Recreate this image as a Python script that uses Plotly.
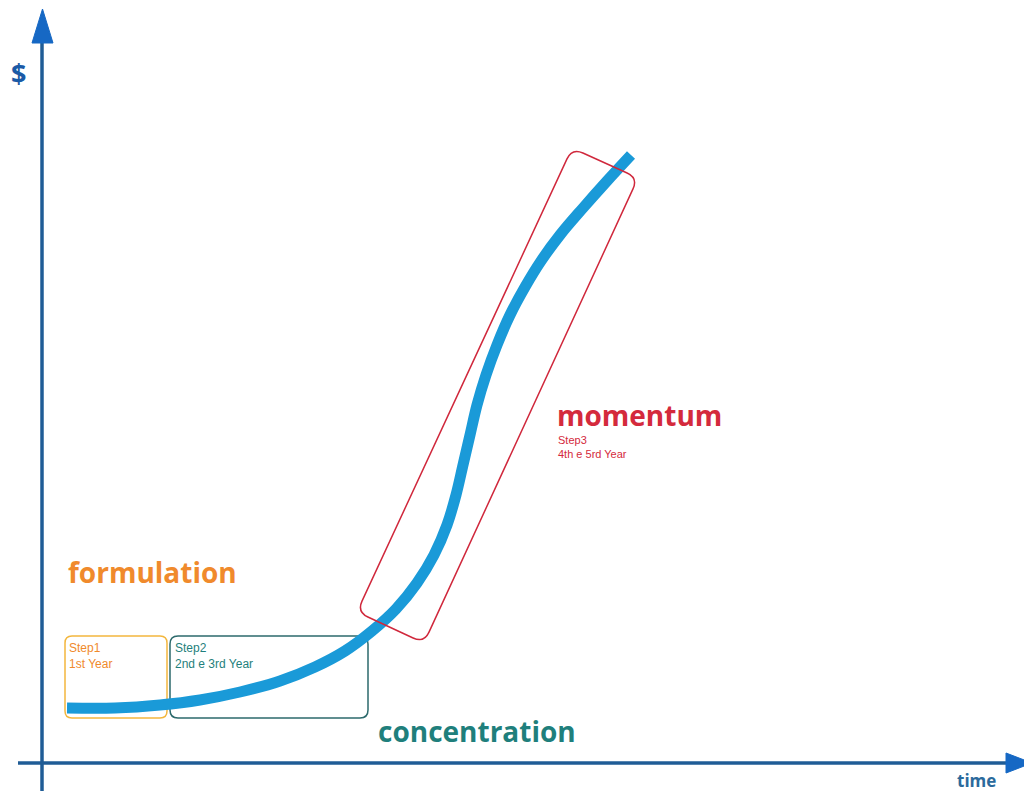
import math
import plotly.graph_objects as go

W, H = 1032, 791

# ---- data (x = time units, y = $ units; axis spans 0..1032 x 0..791) ----
curve_time = [67, 115, 160, 200, 240, 280, 315, 345, 372, 396, 417, 434, 447, 456, 463, 470,
              477, 486, 497, 510, 525, 541, 560, 583, 607, 631]
curve_value = [83, 83, 86, 91, 99, 110, 124, 140, 160, 182, 208, 236, 266, 296, 326, 356,
               386, 416, 446, 476, 504, 530, 556, 583, 610, 636]

phase_names = ["formulation", "concentration", "momentum"]
phase_steps = ["Step1<br>1st Year", "Step2<br>2nd e 3rd Year", "Step3<br>4th e 5rd Year"]
phase_colors = ["#f08a2c", "#1f7f7c", "#d42a3c"]
box_colors = ["#f3b73e", "#2d6a6c", "#d0283c"]

# step boxes (x0, x1, y0, y1) in data units
step1_box = [65, 167, 73, 155]
step2_box = [170, 368, 73, 155]
# rotated momentum box corners (TL, TR, BR, BL)
step3_corners = [(572, 643), (638, 613), (424, 148), (357, 179)]

AXIS = "#1f5c96"
HEAD = "#1668c4"
LINE = "#1a9ad8"

def rounded_rect(x0, x1, y0, y1, r):
    return (f"M {x0+r},{y0} L {x1-r},{y0} Q {x1},{y0} {x1},{y0+r} "
            f"L {x1},{y1-r} Q {x1},{y1} {x1-r},{y1} L {x0+r},{y1} "
            f"Q {x0},{y1} {x0},{y1-r} L {x0},{y0+r} Q {x0},{y0} {x0+r},{y0} Z")

def rounded_poly(pts, r):
    n = len(pts)
    def towards(a, b, d):
        dx, dy = b[0]-a[0], b[1]-a[1]
        L = math.hypot(dx, dy)
        return (a[0]+dx*d/L, a[1]+dy*d/L)
    path = ""
    for i in range(n):
        prev = pts[i-1]
        cur = pts[i]
        nxt = pts[(i+1) % n]
        p1 = towards(cur, prev, r)
        p2 = towards(cur, nxt, r)
        path += ("M" if i == 0 else "L") + f" {p1[0]:.1f},{p1[1]:.1f} "
        path += f"Q {cur[0]},{cur[1]} {p2[0]:.1f},{p2[1]:.1f} "
    return path + "Z"

fig = go.Figure()
fig.add_trace(go.Scatter(x=curve_time, y=curve_value, mode="lines",
                         line=dict(color=LINE, width=11, shape="spline", smoothing=1.0, simplify=False),
                         hoverinfo="skip", showlegend=False))

shapes = []
shapes.append(dict(type="path", path=rounded_rect(*step1_box, 7), line=dict(color=box_colors[0], width=1.5), layer="below"))
shapes.append(dict(type="path", path=rounded_rect(*step2_box, 8), line=dict(color=box_colors[1], width=1.5), layer="below"))
shapes.append(dict(type="path", path=rounded_poly(step3_corners, 12), line=dict(color=box_colors[2], width=1.5), layer="above"))
shapes.append(dict(type="line", x0=42, x1=42, y0=-10, y1=752, line=dict(color=AXIS, width=3.5)))
shapes.append(dict(type="line", x0=18, x1=1012, y0=28, y1=28, line=dict(color=AXIS, width=3.5)))
shapes.append(dict(type="path", path="M 32,748 L 53,748 L 42.5,782 Z", fillcolor=HEAD, line=dict(color=HEAD, width=1)))
shapes.append(dict(type="path", path="M 1006,38 L 1006,18 L 1032,28 Z", fillcolor=HEAD, line=dict(color=HEAD, width=1)))

FONT = "Open Sans"
ann = []
ann.append(dict(x=18, y=719, text="<b>$</b>", font=dict(family=FONT, size=27, color="#1a5aa6"), xanchor="center", yanchor="middle"))
ann.append(dict(x=976, y=11, text="<b>time</b>", font=dict(family=FONT, size=17, color="#2b6a9c"), xanchor="center", yanchor="middle"))
ann.append(dict(x=66, y=219, text=f"<b>{phase_names[0]}</b>", font=dict(family=FONT, size=28, color=phase_colors[0]), xanchor="left", yanchor="middle"))
ann.append(dict(x=376, y=60, text=f"<b>{phase_names[1]}</b>", font=dict(family=FONT, size=28, color=phase_colors[1]), xanchor="left", yanchor="middle"))
ann.append(dict(x=555, y=376, text=f"<b>{phase_names[2]}</b>", font=dict(family=FONT, size=28, color=phase_colors[2]), xanchor="left", yanchor="middle"))
ann.append(dict(x=67, y=152, text=phase_steps[0], font=dict(family="Liberation Sans", size=12, color=phase_colors[0]), xanchor="left", yanchor="top", align="left"))
ann.append(dict(x=173, y=152, text=phase_steps[1], font=dict(family="Liberation Sans", size=12, color=phase_colors[1]), xanchor="left", yanchor="top", align="left"))
ann.append(dict(x=556, y=359, text=phase_steps[2], font=dict(family="Liberation Sans", size=11, color=phase_colors[2]), xanchor="left", yanchor="top", align="left"))
for a in ann:
    a.update(showarrow=False, xref="x", yref="y")

# page body has an 8px margin: shift axis ranges so the drawing lands at the reference pixels
fig.update_layout(
    width=W, height=H,
    margin=dict(l=0, r=0, t=0, b=0),
    paper_bgcolor="white", plot_bgcolor="white",
    xaxis=dict(range=[8, W + 8], visible=False, fixedrange=True),
    yaxis=dict(range=[-8, H - 8], visible=False, fixedrange=True),
    shapes=shapes, annotations=ann, showlegend=False,
)
fig.write_html("out.html")
